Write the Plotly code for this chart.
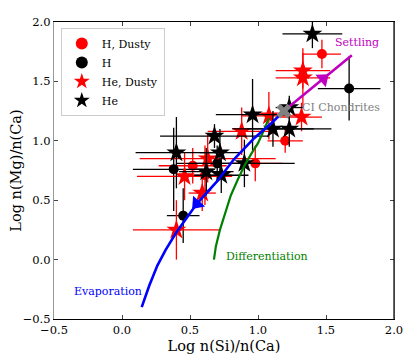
import plotly.graph_objects as go

# observed abundances (log ratios) with error bars
h_dusty_x = [1.47, 1.20, 0.98, 0.52, 0.61]
h_dusty_y = [1.73, 1.00, 0.81, 0.79, 0.71]
h_dusty_xerr = [0.14, 0.13, 0.20, 0.25, 0.20]
h_dusty_yerr = [0.12, 0.10, 0.15, 0.15, 0.25]

h_x = [1.67, 0.38, 0.70, 0.45]
h_y = [1.44, 0.76, 0.81, 0.37]
h_xerr = [0.23, 0.30, 0.30, 0.12]
h_yerr = [0.27, 0.35, 0.15, 0.23]

he_dusty_x = [1.33, 1.33, 0.88, 1.08, 1.32, 0.63, 0.46, 0.59, 0.40]
he_dusty_y = [1.59, 1.53, 1.08, 1.21, 1.20, 0.85, 0.70, 0.56, 0.25]
he_dusty_xerr = [0.20, 0.20, 0.25, 0.20, 0.15, 0.50, 0.35, 0.10, 0.32]
he_dusty_yerr = [0.15, 0.25, 0.20, 0.20, 0.12, 0.20, 0.20, 0.15, 0.25]

he_x = [1.40, 0.96, 1.11, 1.23, 1.23, 0.40, 0.68, 0.72, 0.90, 0.73, 0.62]
he_y = [1.90, 1.22, 1.10, 1.10, 1.28, 0.90, 1.04, 0.90, 0.81, 0.71, 0.74]
he_xerr = [0.22, 0.27, 0.30, 0.31, 0.10, 0.30, 0.40, 0.15, 0.37, 0.20, 0.20]
he_yerr = [0.12, 0.30, 0.15, 0.15, 0.10, 0.30, 0.10, 0.20, 0.20, 0.15, 0.20]

ci_x, ci_y = 1.19, 1.25

# model tracks
evap_x = [0.145, 0.20, 0.26, 0.32, 0.40, 0.48, 0.55, 0.70, 0.82, 0.97, 1.10, 1.19]
evap_y = [-0.40, -0.22, -0.05, 0.08, 0.23, 0.36, 0.47, 0.66, 0.84, 1.02, 1.15, 1.25]
diff_x = [0.676, 0.69, 0.72, 0.76, 0.80, 0.85, 0.90, 0.95, 1.00, 1.04, 1.08]
diff_y = [0.00, 0.11, 0.25, 0.40, 0.54, 0.67, 0.79, 0.89, 0.98, 1.08, 1.19]
settle_x = [1.19, 1.69]
settle_y = [1.25, 1.72]

# arrow heads on the tracks (position, direction in degrees clockwise from up)
evap_arrow = (0.55, 0.47, 222)
settle_arrow = (1.48, 1.522, 50)

font = 'DejaVu Serif'
fig = go.Figure()


def add_points(x, y, xe, ye, color, symbol, size, name):
    fig.add_trace(go.Scatter(
        x=x, y=y, mode='markers', name=name,
        marker=dict(color=color, symbol=symbol, size=size, line=dict(width=0)),
        error_x=dict(type='data', array=xe, color=color, thickness=1.3, width=0),
        error_y=dict(type='data', array=ye, color=color, thickness=1.3, width=0)))


add_points(h_dusty_x, h_dusty_y, h_dusty_xerr, h_dusty_yerr, 'red', 'circle', 10, 'H, Dusty')
add_points(h_x, h_y, h_xerr, h_yerr, 'black', 'circle', 10, 'H')
add_points(he_dusty_x, he_dusty_y, he_dusty_xerr, he_dusty_yerr, 'red', 'star', 15, 'He, Dusty')
add_points(he_x, he_y, he_xerr, he_yerr, 'black', 'star', 15, 'He')

# tracks
fig.add_trace(go.Scatter(x=diff_x, y=diff_y, mode='lines', line=dict(color='green', width=2.2),
                         showlegend=False))
fig.add_trace(go.Scatter(x=evap_x, y=evap_y, mode='lines', line=dict(color='blue', width=2.6),
                         showlegend=False))
fig.add_trace(go.Scatter(x=settle_x, y=settle_y, mode='lines', line=dict(color='#bf00bf', width=2.6),
                         showlegend=False))

for (ax, ay, ang), col in [(evap_arrow, 'blue'), (settle_arrow, '#bf00bf')]:
    fig.add_trace(go.Scatter(x=[ax], y=[ay], mode='markers', showlegend=False,
                             marker=dict(symbol='triangle-up', angle=ang, size=14,
                                         color=col, line=dict(width=0))))

# CI chondrites
fig.add_trace(go.Scatter(x=[ci_x], y=[ci_y], mode='markers', showlegend=False,
                         marker=dict(symbol='x', size=13, color='gray', line=dict(width=0))))

fig.add_annotation(x=1.31, y=1.28, text='CI Chondrites', showarrow=False, xanchor='left',
                   font=dict(color='gray', size=11, family=font))
fig.add_annotation(x=1.73, y=1.83, text='Settling', showarrow=False,
                   font=dict(color='#bf00bf', size=11, family=font))
fig.add_annotation(x=0.75, y=0.03, text='Differentiation', showarrow=False, xanchor='left',
                   font=dict(color='green', size=11, family=font))
fig.add_annotation(x=-0.10, y=-0.27, text='Evaporation', showarrow=False,
                   font=dict(color='blue', size=11, family=font))

# right spine in black
fig.add_shape(type='line', xref='paper', yref='paper', x0=1, x1=1, y0=0, y1=1,
              line=dict(color='black', width=1.2))

ticks = [-0.5, 0.0, 0.5, 1.0, 1.5, 2.0]
tick_text = ['\u22120.5', '0.0', '0.5', '1.0', '1.5', '2.0']

fig.update_xaxes(range=[-0.5, 2.0], tickvals=ticks, ticktext=tick_text,
                 ticks='inside', ticklen=4, mirror='ticks', showline=True, linecolor='black',
                 linewidth=1.2, showgrid=False, zeroline=False, automargin=False,
                 title=dict(text='Log n(Si)/n(Ca)', font=dict(size=14.5, family=font), standoff=4),
                 tickfont=dict(size=11.5, family=font, color='black'))
fig.update_yaxes(range=[-0.5, 2.0], tickvals=ticks, ticktext=tick_text,
                 ticks='inside', ticklen=4, mirror='ticks', showline=True, linecolor='#999999',
                 linewidth=1.2, showgrid=False, zeroline=False, automargin=False,
                 title=dict(text='Log n(Mg)/n(Ca)', font=dict(size=14.5, family=font), standoff=4),
                 tickfont=dict(size=11.5, family=font, color='black'))

fig.update_layout(
    width=415, height=363,
    margin=dict(l=46, r=29, t=14, b=52),
    plot_bgcolor='white', paper_bgcolor='white',
    font=dict(family=font, color='black'),
    legend=dict(x=0.02, y=0.98, xanchor='left', yanchor='top', bgcolor='white',
                bordercolor='#cccccc', borderwidth=1, font=dict(size=11, family=font),
                itemsizing='constant', tracegroupgap=0),
)

fig.write_html('out.html')
